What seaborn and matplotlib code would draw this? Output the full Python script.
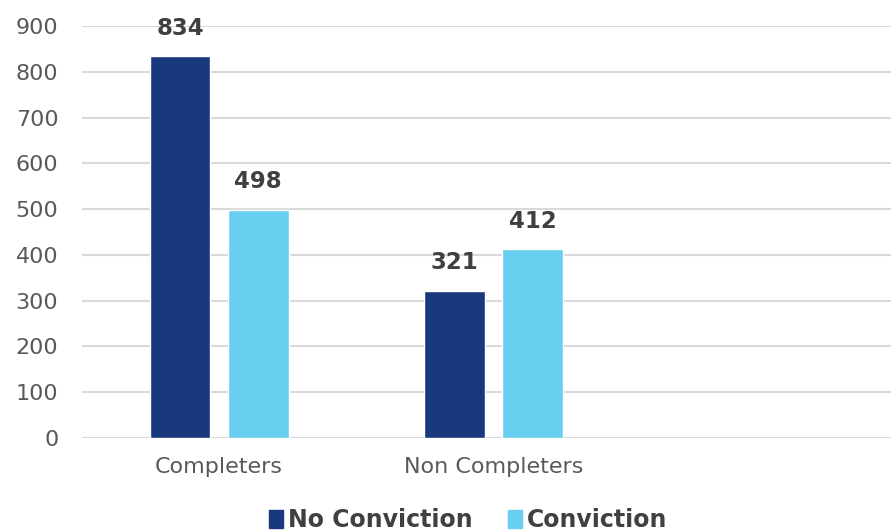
import seaborn as sns
import matplotlib.pyplot as plt
import pandas as pd

groups = ["Completers", "Non Completers"]
series = ["No Conviction", "Conviction"]
no_conviction = [834, 321]
conviction = [498, 412]
colors = ["#1a387d", "#69cff0"]

df = pd.DataFrame({
    "group": groups * 2,
    "series": [series[0]] * 2 + [series[1]] * 2,
    "value": no_conviction + conviction,
})

sns.set_style("white")
plt.rcParams["font.family"] = ["DejaVu Sans"]

fig = plt.figure(figsize=(8.91, 5.32), dpi=100)
ax = fig.add_axes([0.092, 0.177, 0.908, 0.774])

sns.barplot(data=df, x="group", y="value", hue="series", order=groups,
            hue_order=series, palette=colors, width=0.57, gap=0.22,
            saturation=1, ax=ax, legend=False)

for cont in ax.containers:
    ax.bar_label(cont, padding=12, fontsize=16.5, fontweight="bold", color="#404040")

ax.set_ylim(0, 900)
ax.set_xlim(-0.5, 2.45)
ax.set_yticks(range(0, 901, 100))
ax.yaxis.grid(True, color="#d9d9d9", linewidth=1.5)
ax.set_axisbelow(True)
for s in ax.spines.values():
    s.set_visible(False)
ax.tick_params(axis="y", labelsize=16, labelcolor="#595959", length=0, pad=17)
ax.tick_params(axis="x", labelsize=16, labelcolor="#595959", length=0, pad=14)
ax.set_xlabel("")
ax.set_ylabel("")

handles = [plt.Rectangle((0, 0), 1, 1, color=c) for c in colors]
fig.legend(handles, series, loc="lower center", bbox_to_anchor=(0.525, -0.04),
           ncol=2, frameon=False, handlelength=0.6, handleheight=0.8,
           handletextpad=0.2, columnspacing=1.5,
           prop={"weight": "bold", "size": 17})
for t in fig.legends[0].get_texts():
    t.set_color("#404040")

fig.savefig("out.png", dpi=100)
